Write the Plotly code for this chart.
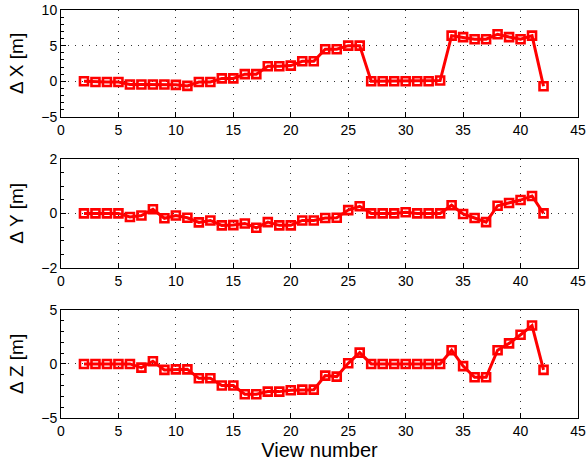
import plotly.graph_objects as go
from plotly.subplots import make_subplots

views = list(range(2, 43))
dx = [0.0, -0.1, -0.1, -0.1, -0.45, -0.45, -0.45, -0.45, -0.5, -0.65, -0.1, -0.1, 0.4, 0.4,
      1.0, 1.0, 2.1, 2.1, 2.2, 2.8, 2.8, 4.5, 4.5, 5.0, 5.0, 0.0, 0.0, 0.0, 0.0, 0.0, 0.0, 0.1,
      6.4, 6.2, 5.9, 5.9, 6.6, 6.2, 5.9, 6.4, -0.7]
dy = [0.0, 0.0, 0.0, 0.0, -0.13, -0.08, 0.15, -0.18, -0.08, -0.16, -0.33, -0.26, -0.44, -0.43,
      -0.37, -0.53, -0.32, -0.44, -0.44, -0.26, -0.26, -0.17, -0.16, 0.12, 0.26, 0.0, 0.0, 0.0,
      0.04, 0.0, 0.0, 0.0, 0.3, -0.02, -0.17, -0.32, 0.28, 0.38, 0.49, 0.64, 0.0]
dz = [0.0, 0.0, 0.0, 0.0, 0.0, -0.34, 0.25, -0.55, -0.5, -0.5, -1.33, -1.33, -2.0, -2.0,
      -2.8, -2.8, -2.56, -2.56, -2.44, -2.38, -2.38, -1.08, -1.17, 0.06, 1.05, 0.0, 0.0, 0.0,
      0.0, 0.0, 0.0, 0.0, 1.27, -0.2, -1.23, -1.23, 1.27, 1.9, 2.7, 3.55, -0.55]

y_titles = ["Δ X [m]", "Δ Y [m]", "Δ Z [m]"]
y_ranges = [[-5, 10], [-2, 2], [-5, 5]]
y_dticks = [5, 2, 5]
x_ticks = [0, 5, 10, 15, 20, 25, 30, 35, 40, 45]

fig = make_subplots(rows=3, cols=1, vertical_spacing=0.1)
domains = [[0.738, 1.0], [0.368, 0.635], [0.0, 0.265]]

for i, vals in enumerate([dx, dy, dz]):
    fig.add_trace(go.Scatter(
        x=views, y=vals, mode="lines+markers",
        line=dict(color="#ff0000", width=3),
        marker=dict(symbol="square-open", size=8, color="#ff0000", line=dict(width=2.6, color="#ff0000")),
        showlegend=False, cliponaxis=False), row=i + 1, col=1)
    axis_common = dict(showline=True, linecolor="black", linewidth=1, mirror=True,
                       ticks="inside", ticklen=5, tickcolor="black",
                       showgrid=True, gridcolor="#333333", griddash="1px,6px", gridwidth=1,
                       zeroline=False, automargin=False,
                       tickfont=dict(size=14, color="black"))
    fig.update_xaxes(range=[0, 45], tickvals=x_ticks, **axis_common, row=i + 1, col=1)
    fig.update_yaxes(range=y_ranges[i], dtick=y_dticks[i], domain=domains[i],
                     minor=dict(ticks="inside", ticklen=3, tickcolor="black",
                                nticks=5 if i != 1 else 4, showgrid=False),
                     title=dict(text=y_titles[i], font=dict(size=19, color="black"), standoff=12),
                     **axis_common, row=i + 1, col=1)

fig.update_xaxes(title=dict(text="View number", font=dict(size=20, color="black"), standoff=3), row=3, col=1)

fig.update_layout(width=586, height=466, margin=dict(l=61, r=8, t=10, b=48),
                  plot_bgcolor="white", paper_bgcolor="white",
                  font=dict(family="Liberation Sans, Arial, sans-serif", color="black"))

fig.write_html("out.html", config={"displayModeBar": False},
               post_script="document.body.style.margin='0px';")
